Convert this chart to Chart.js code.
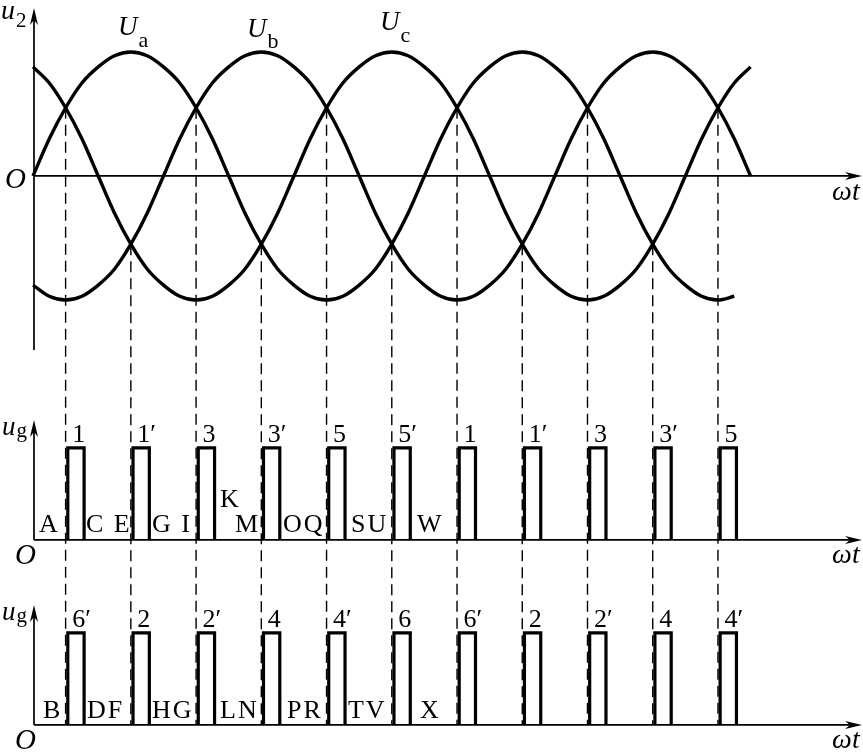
<!DOCTYPE html>
<html>
<head>
<meta charset="utf-8">
<script src="https://cdn.jsdelivr.net/npm/chart.js@4.4.1/dist/chart.umd.min.js"></script>
<style>
  html, body { margin: 0; padding: 0; background: #fff; }
  canvas { display: block; }
</style>
</head>
<body>
<canvas id="chart" width="863" height="752"></canvas>
<script>
// wt in degrees, one sample every 15 deg
const theta = [0, 15, 30, 45, 60, 75, 90, 105, 120, 135, 150, 165,
  180, 195, 210, 225, 240, 255, 270, 285, 300, 315, 330, 345,
  360, 375, 390, 405, 420, 435, 450, 465, 480, 495, 510, 525,
  540, 555, 570, 585, 600, 615, 630, 645, 660];

// phase voltages (peak = 1)
const ua = [0, .3, .55, .75, .88, .97, 1, .97, .88, .75, .55, .3,
  0, -.3, -.55, -.75, -.88, -.97, -1, -.97, -.88, -.75, -.55, -.3,
  0, .3, .55, .75, .88, .97, 1, .97, .88, .75, .55, .3,
  0, -.3, -.55, -.75, -.88, -.97, -1, -.97];
const ub = [-.88, -.97, -1, -.97, -.88, -.75, -.55, -.3, 0, .3, .55, .75,
  .88, .97, 1, .97, .88, .75, .55, .3, 0, -.3, -.55, -.75,
  -.88, -.97, -1, -.97, -.88, -.75, -.55, -.3, 0, .3, .55, .75,
  .88, .97, 1, .97, .88, .75, .55, .3, 0];
const uc = [.88, .75, .55, .3, 0, -.3, -.55, -.75, -.88, -.97, -1, -.97,
  -.88, -.75, -.55, -.3, 0, .3, .55, .75, .88, .97, 1, .97,
  .88, .75, .55, .3, 0, -.3, -.55, -.75, -.88, -.97, -1, -.97,
  -.88, -.75, -.55, -.3, 0, .3, .55, .75, .88];

// natural commutation points and where the curves cross there
const commAngle = [30, 90, 150, 210, 270, 330, 390, 450, 510, 570, 630];
const commLevel = [.55, -.55, .55, -.55, .55, -.55, .55, -.55, .55, -.55, .55];

// trigger pulses, degrees
const gateOn = [32, 92, 152, 212, 272, 332, 392, 452, 512, 572, 632];
const gateOff = [47, 107, 167, 227, 287, 347, 407, 467, 527, 587, 647];

const upperPulseNames = ["1", "1\u2032", "3", "3\u2032", "5", "5\u2032", "1", "1\u2032", "3", "3\u2032", "5"];
const lowerPulseNames = ["6\u2032", "2", "2\u2032", "4", "4\u2032", "6", "6\u2032", "2", "2\u2032", "4", "4\u2032"];

const upperLetters = ["A", "C E", "G I", "K", "M", "OQ", "SU", "W"];
const lowerLetters = ["B", "DF", "HG", "LN", "PR", "TV", "X"];

// layout (scale units: degrees on x, peak voltage on y)
const X_MIN = -30.35, X_MAX = 763.4;
const Y_MIN = -4.645, Y_MAX = 1.419;
const AXIS_END = 762.5;
const MID_BASE = -2.935, BOT_BASE = -4.427, PULSE_H = 0.742;
const upperLetterAt = [5.5, 48.7, 109.5, 172, 185.8, 229.9, 292.5, 353.2];
const upperLetterLift = [0, 0, 0, 0.2, 0, 0, 0, 0];
const lowerLetterAt = [9.2, 49.7, 109.5, 172, 233.6, 289.7, 356];

const SERIF = '"Liberation Serif", "Times New Roman", serif';

function curve(vals) {
  return vals.map((v, i) => ({ x: theta[i], y: v }));
}

function pulses(base) {
  const pts = [];
  gateOn.forEach((on, i) => {
    const off = gateOff[i];
    pts.push({ x: on, y: base }, { x: on, y: base + PULSE_H },
             { x: off, y: base + PULSE_H }, { x: off, y: base }, { x: off, y: null });
  });
  return pts;
}

function dashes() {
  const pts = [];
  commAngle.forEach((a, i) => {
    pts.push({ x: a, y: commLevel[i] }, { x: a, y: BOT_BASE }, { x: a, y: null });
  });
  return pts;
}

const figure = {
  id: 'figure',
  beforeDatasetsDraw(chart) {
    const { ctx } = chart;
    const X = v => chart.scales.x.getPixelForValue(v);
    const Y = v => chart.scales.y.getPixelForValue(v);
    ctx.save();
    ctx.strokeStyle = '#000';
    ctx.fillStyle = '#000';
    ctx.lineWidth = 1.7;
    const axes = [[0, -1.403, 1.355], [MID_BASE, MID_BASE, MID_BASE + 0.967], [BOT_BASE, BOT_BASE, BOT_BASE + 0.967]];
    axes.forEach(([base, y0, y1]) => {
      const x0 = X(0) + 1, xe = X(AXIS_END), yb = Y(base), yt = Y(y1);
      ctx.beginPath();
      ctx.moveTo(x0, yb); ctx.lineTo(xe - 8, yb);
      ctx.moveTo(x0, Y(y0)); ctx.lineTo(x0, yt + 8);
      ctx.stroke();
      ctx.beginPath();
      ctx.moveTo(xe, yb); ctx.lineTo(xe - 17, yb - 4); ctx.lineTo(xe - 12, yb); ctx.lineTo(xe - 17, yb + 4);
      ctx.closePath(); ctx.fill();
      ctx.beginPath();
      ctx.moveTo(x0, yt); ctx.lineTo(x0 - 4, yt + 17); ctx.lineTo(x0, yt + 12); ctx.lineTo(x0 + 4, yt + 17);
      ctx.closePath(); ctx.fill();
    });
    ctx.restore();
  },
  afterDatasetsDraw(chart) {
    const { ctx } = chart;
    const X = v => chart.scales.x.getPixelForValue(v);
    const Y = v => chart.scales.y.getPixelForValue(v);
    ctx.save();
    ctx.fillStyle = '#000';
    ctx.textBaseline = 'alphabetic';
    ctx.textAlign = 'left';

    const text = (s, a, v, font) => {
      ctx.font = font;
      ctx.fillText(s, X(a), Y(v));
    };
    const withSub = (s, sub, a, v, size, subSize, drop) => {
      ctx.font = 'italic ' + size + 'px ' + SERIF;
      const x = X(a), y = Y(v);
      ctx.fillText(s, x, y);
      const w = ctx.measureText(s).width;
      ctx.font = subSize + 'px ' + SERIF;
      ctx.fillText(sub, x + w + 1, y + drop);
    };

    // upper panel
    withSub('u', '2', -29.4, 1.266, 28, 21, 8);
    withSub('U', 'a', 78.2, 1.137, 27, 22, 12);
    withSub('U', 'b', 196.8, 1.121, 27, 22, 11);
    withSub('U', 'c', 319.2, 1.177, 27, 22, 12);
    text('O', -25.8, -0.097, 'italic 29px ' + SERIF);
    text('\u03c9t', 735, -0.194, 'italic 28px ' + SERIF);

    // pulse panels
    [[MID_BASE, upperPulseNames], [BOT_BASE, lowerPulseNames]].forEach(([base, names]) => {
      withSub('u', 'g', -28.5, base + 0.847, 27, 21, 2);
      text('O', -16.6, base - 0.197, 'italic 29px ' + SERIF);
      text('\u03c9t', 735, base - 0.183, 'italic 28px ' + SERIF);
      names.forEach((n, i) => text(n, commAngle[i] + 6, base + 0.79, '26px ' + SERIF));
    });

    ctx.letterSpacing = '2px';
    upperLetters.forEach((s, i) => text(s, upperLetterAt[i], MID_BASE + 0.064 + upperLetterLift[i], '26px ' + SERIF));
    lowerLetters.forEach((s, i) => text(s, lowerLetterAt[i], BOT_BASE + 0.056, '26px ' + SERIF));
    ctx.restore();
  }
};

const curveStyle = {
  borderColor: '#000', borderWidth: 3.4, pointRadius: 0,
  cubicInterpolationMode: 'monotone', fill: false
};
const pulseStyle = {
  borderColor: '#000', borderWidth: 3.2, pointRadius: 0,
  tension: 0, fill: false, borderJoinStyle: 'miter', spanGaps: false
};

new Chart(document.getElementById('chart'), {
  type: 'line',
  data: {
    datasets: [
      { label: 'Ua', data: curve(ua), ...curveStyle },
      { label: 'Ub', data: curve(ub), ...curveStyle },
      { label: 'Uc', data: curve(uc), ...curveStyle },
      { label: 'upper pulses', data: pulses(MID_BASE), ...pulseStyle },
      { label: 'lower pulses', data: pulses(BOT_BASE), ...pulseStyle },
      { label: 'commutation', data: dashes(), borderColor: '#000', borderWidth: 1.4,
        borderDash: [11, 6], pointRadius: 0, tension: 0, spanGaps: false }
    ]
  },
  options: {
    responsive: false,
    animation: false,
    events: [],
    layout: { padding: 0, autoPadding: false },
    plugins: { legend: { display: false }, tooltip: { enabled: false } },
    scales: {
      x: { type: 'linear', min: X_MIN, max: X_MAX, display: false },
      y: { type: 'linear', min: Y_MIN, max: Y_MAX, display: false }
    }
  },
  plugins: [figure]
});
</script>
</body>
</html>
